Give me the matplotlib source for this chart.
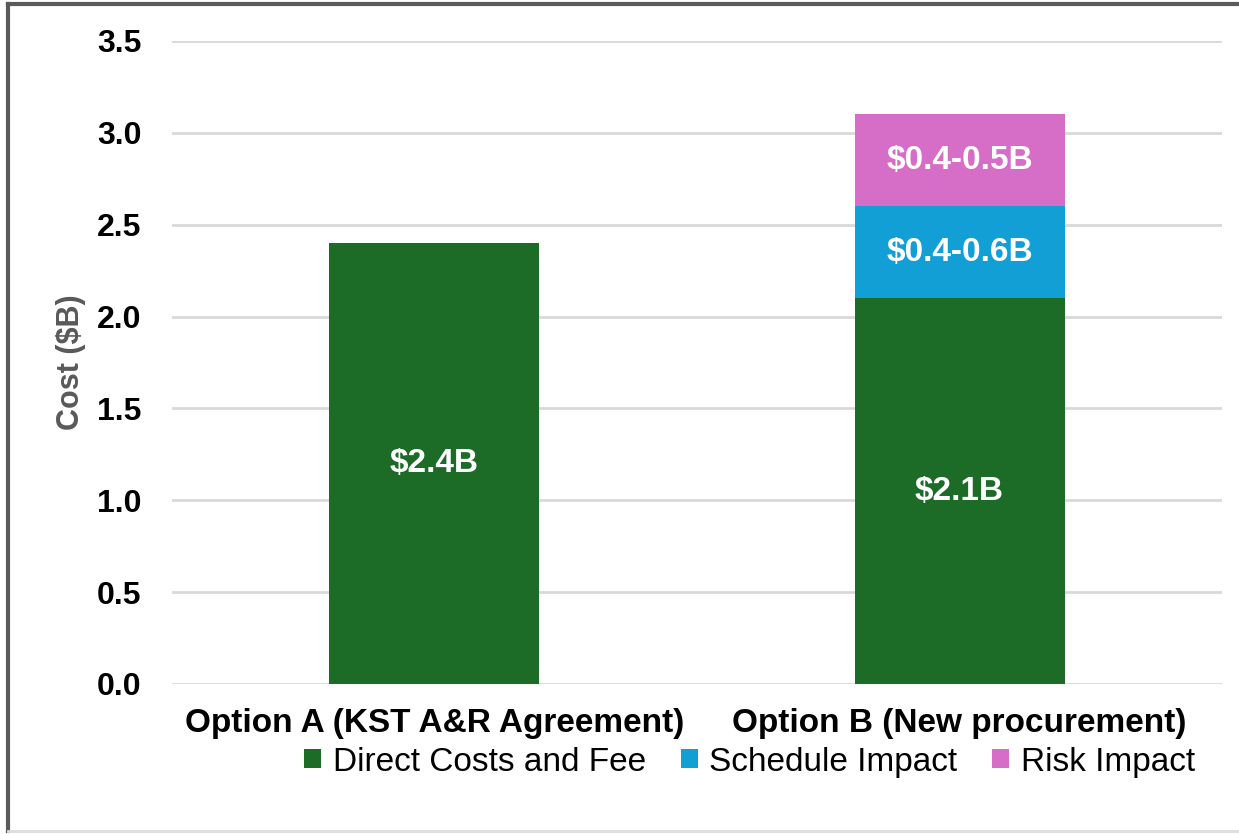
import numpy as np
import matplotlib
matplotlib.use("Agg")
import matplotlib.pyplot as plt
from matplotlib.patches import Patch
from matplotlib.lines import Line2D

plt.rcParams['font.family'] = ['Liberation Sans', 'DejaVu Sans']

categories = ["Option A (KST A&R Agreement)", "Option B (New procurement)"]
series_names = ["Direct Costs and Fee", "Schedule Impact", "Risk Impact"]
direct = [2.4, 2.1]
schedule = [0.0, 0.5]
risk = [0.0, 0.5]
bar_labels = {
    "Direct Costs and Fee": ["$2.4B", "$2.1B"],
    "Schedule Impact": [None, "$0.4-0.6B"],
    "Risk Impact": [None, "$0.4-0.5B"],
}
colors = ["#1C6B26", "#119FD6", "#D66EC8"]

fig = plt.figure(figsize=(12.39, 8.34), dpi=100)
ax = fig.add_axes([0.1388, 0.1799, 0.8475, 0.771])

x = np.arange(len(categories))
bottom = np.zeros(len(categories))
for name, vals, col in zip(series_names, [direct, schedule, risk], colors):
    vals = np.array(vals)
    bars = ax.bar(x, vals, width=0.4, bottom=bottom, color=col, zorder=3)
    for i, (b, lab) in enumerate(zip(bars, bar_labels[name])):
        if lab:
            ax.text(b.get_x() + b.get_width() / 2, bottom[i] + vals[i] / 2, lab,
                    ha="center", va="center", color="white", fontsize=24,
                    fontweight="bold", zorder=4)
    bottom += vals

ax.set_xlim(-0.5, 1.5)
ax.set_ylim(0, 3.5)
ax.set_yticks(np.arange(0, 3.51, 0.5))
ax.set_yticklabels([f"{v:.1f}" for v in np.arange(0, 3.51, 0.5)],
                   fontsize=23, fontweight="bold")
ax.set_xticks(x)
ax.set_xticklabels(categories, fontsize=24, fontweight="bold")
ax.tick_params(axis="y", length=0, pad=22)
ax.tick_params(axis="x", length=0, pad=17)
ax.yaxis.grid(True, color="#D9D9D9", linewidth=2, zorder=0)
for s in ax.spines.values():
    s.set_visible(False)
ax.set_ylabel("Cost ($B)", fontsize=22, fontweight="bold", color="#595959",
              labelpad=8)

handles = [Patch(facecolor=c, edgecolor="none") for c in colors]
fig.legend(handles, series_names, loc="center", ncol=3,
           bbox_to_anchor=(0.605, 0.0863), frameon=False, fontsize=24,
           handlelength=0.5, handleheight=0.5, handletextpad=0.35,
           columnspacing=1.05, borderaxespad=0)

# outer frame
W, H = 1239, 834
fig.add_artist(Line2D([8 / W, 8 / W], [1 - 4 / H, 1 - 831 / H], color="#5A5A5A",
                      lw=3, transform=fig.transFigure))
fig.add_artist(Line2D([8 / W, 1], [1 - 4 / H, 1 - 4 / H], color="#5A5A5A",
                      lw=3, transform=fig.transFigure))
fig.add_artist(Line2D([8 / W, 1], [1 - 831 / H, 1 - 831 / H], color="#DDDDDD",
                      lw=2, transform=fig.transFigure))

fig.savefig("out.png", dpi=100)
